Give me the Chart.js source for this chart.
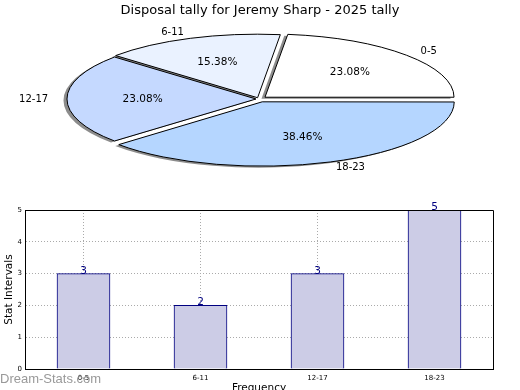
<!DOCTYPE html>
<html lang="en">
<head>
  <meta charset="UTF-8">
  <title>Disposal tally for Jeremy Sharp - 2025 tally</title>
  <script src="https://cdn.jsdelivr.net/npm/chart.js"></script>
  <style>
    html, body { margin: 0; padding: 0; background: #fff; overflow: hidden; }
    body { position: relative; width: 520px; height: 390px; font-family: "DejaVu Sans", sans-serif; }
    #pieBox { position: absolute; left: 0; top: 0; width: 520px; height: 450px; z-index: 2; }
    #barBox { position: absolute; left: 0; top: 200px; width: 520px; height: 200px; z-index: 1; }
    #mark { position: absolute; left: 0; top: 372px; font: 13px/13px "Liberation Sans", sans-serif; color: #999; z-index: 3; }
  </style>
</head>
<body>
  <div id="pieBox"><canvas id="pieChart"></canvas></div>
  <div id="barBox"><canvas id="barChart"></canvas></div>
  <div id="mark">Dream-Stats.com</div>
  <script>
    const chartTitle = 'Disposal tally for Jeremy Sharp - 2025 tally';
    const categories = ['0-5', '6-11', '12-17', '18-23'];
    const counts = [3, 2, 3, 5];
    const yTicks = [0, 1, 2, 3, 4, 5];

    const total = counts.reduce((a, b) => a + b, 0);

    // the pie is drawn as a flat ellipse, like the original
    const PIE_X = 259, PIE_Y = 99, SQUASH = 0.335;

    const pieShape = {
      id: 'pieShape',
      beforeDatasetsDraw(chart) {
        const ctx = chart.ctx;
        const a = chart.getDatasetMeta(0).data[0];
        const dpr = chart.currentDevicePixelRatio || 1;
        ctx.save();
        ctx.translate(PIE_X, PIE_Y);
        ctx.scale(1, -SQUASH);
        ctx.translate(-a.x, -a.y);
        ctx.shadowColor = 'rgba(0,0,0,0.45)';
        ctx.shadowOffsetX = -3.5;
        ctx.shadowOffsetY = 1.5;
        ctx.shadowBlur = 0;
        // keep outlines 1px wide after squashing, and without shadow
        const rawStroke = CanvasRenderingContext2D.prototype.stroke;
        ctx.stroke = function () {
          this.save();
          this.setTransform(dpr, 0, 0, dpr, 0, 0);
          this.shadowColor = 'rgba(0,0,0,0)';
          rawStroke.apply(this, arguments);
          this.restore();
        };
      },
      afterDatasetsDraw(chart) {
        const ctx = chart.ctx;
        delete ctx.stroke;
        ctx.restore();
        ctx.save();
        ctx.fillStyle = '#000';
        chart.getDatasetMeta(0).data.forEach((a, i) => {
          const mid = (a.startAngle + a.endAngle) / 2;
          const off = (a.options.offset || 0) / 4;
          const c = Math.cos(mid), s = Math.sin(mid);
          const dl = a.outerRadius * 1.1 + off;
          ctx.font = '10px "DejaVu Sans"';
          ctx.textBaseline = 'middle';
          ctx.textAlign = c > 0 ? 'left' : 'right';
          ctx.fillText(categories[i], PIE_X + c * dl, PIE_Y - SQUASH * s * dl);
          const dp = a.outerRadius * 0.6 + off;
          ctx.font = '10.5px "DejaVu Sans"';
          ctx.textAlign = 'center';
          ctx.fillText((counts[i] / total * 100).toFixed(2) + '%', PIE_X + c * dp, PIE_Y - SQUASH * s * dp);
        });
        ctx.restore();
      }
    };

    new Chart(document.getElementById('pieChart'), {
      type: 'pie',
      data: {
        labels: categories,
        datasets: [{
          data: counts,
          backgroundColor: ['#ffffff', '#eaf2ff', '#c5d9ff', '#b5d6ff'],
          borderColor: '#000',
          borderWidth: 1,
          offset: [32, 16, 12, 36],
          radius: 189,
          clip: false
        }]
      },
      options: {
        animation: false,
        responsive: true,
        maintainAspectRatio: false,
        rotation: 90,
        events: [],
        plugins: {
          legend: { display: false },
          tooltip: { enabled: false },
          title: {
            display: true,
            text: chartTitle,
            color: '#000',
            font: { family: 'DejaVu Sans', size: 13, weight: 'normal' },
            padding: { top: 3, bottom: 10 }
          }
        }
      },
      plugins: [pieShape]
    });

    const barExtras = {
      id: 'barExtras',
      afterDatasetsDraw(chart) {
        const ctx = chart.ctx;
        ctx.save();
        ctx.fillStyle = '#000080';
        ctx.font = '10.5px "DejaVu Sans"';
        ctx.textAlign = 'center';
        ctx.textBaseline = 'alphabetic';
        chart.getDatasetMeta(0).data.forEach((b, i) => {
          ctx.fillText(String(counts[i]), b.x, b.y);
        });
        ctx.restore();
      },
      afterDraw(chart) {
        const { left, top, right, bottom } = chart.chartArea;
        const ctx = chart.ctx;
        ctx.save();
        ctx.strokeStyle = '#000';
        ctx.lineWidth = 1;
        ctx.beginPath();
        ctx.moveTo(Math.round(left) + 0.5, Math.round(top) + 0.5);
        ctx.lineTo(Math.round(right) + 0.5, Math.round(top) + 0.5);
        ctx.lineTo(Math.round(right) + 0.5, Math.round(bottom) + 0.5);
        ctx.stroke();
        ctx.restore();
      }
    };

    new Chart(document.getElementById('barChart'), {
      type: 'bar',
      data: {
        labels: categories,
        datasets: [{
          data: counts,
          backgroundColor: '#ccccE6',
          borderColor: '#000080',
          borderWidth: 1,
          barThickness: 53
        }]
      },
      options: {
        animation: false,
        responsive: true,
        maintainAspectRatio: false,
        events: [],
        layout: { padding: { top: 10, right: 27, left: 0, bottom: 0 } },
        plugins: { legend: { display: false }, tooltip: { enabled: false } },
        scales: {
          x: {
            offset: true,
            grid: { offset: false, color: '#aaa', drawTicks: false },
            border: { color: '#000', dash: [1, 2] },
            ticks: { color: '#000', font: { family: 'DejaVu Sans', size: 7 }, padding: 5 },
            title: { display: true, text: 'Frequency', color: '#000', font: { family: 'DejaVu Sans', size: 10.5 }, padding: { top: 0, bottom: 5 } },
            afterFit(s) { s.height = 31; }
          },
          y: {
            min: 0,
            max: 5,
            afterBuildTicks(s) { s.ticks = yTicks.map(v => ({ value: v })); },
            grid: { color: '#aaa', drawTicks: false },
            border: { color: '#000', dash: [1, 2] },
            ticks: { color: '#000', font: { family: 'DejaVu Sans', size: 7 }, padding: 3 },
            title: { display: true, text: 'Stat Intervals', color: '#000', font: { family: 'DejaVu Sans', size: 10.5 }, padding: { top: 3, bottom: 0 } },
            afterFit(s) { s.width = 25; }
          }
        }
      },
      plugins: [barExtras]
    });
  </script>
</body>
</html>
